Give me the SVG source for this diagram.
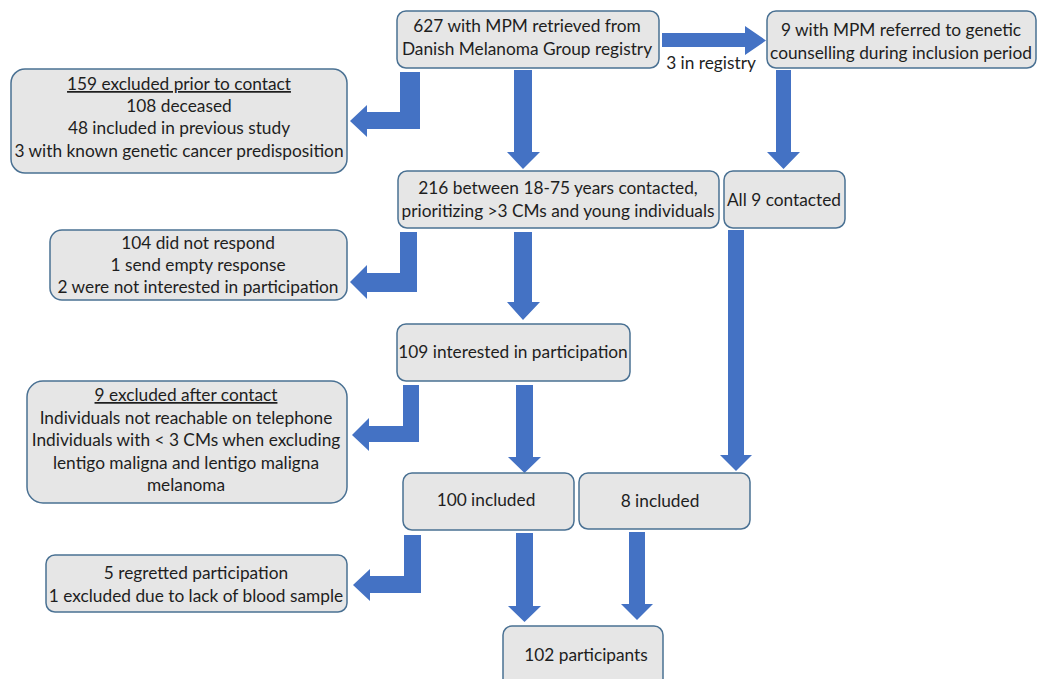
<svg xmlns="http://www.w3.org/2000/svg" width="1038" height="679" viewBox="0 0 1038 679">
<style>
.box{fill:#e6e6e6;stroke:#4a7193;stroke-width:1.5}
.arr{fill:#4472c4}
text{font-family:Lato,"Liberation Sans",sans-serif;font-size:17.3px;fill:#1e1e1e;text-anchor:middle}
.u{text-decoration:underline}
</style>
<rect width="1038" height="679" fill="#ffffff"/>
<g id="connectors">
<polygon class="arr" points="662,33 745,33 745,26 766,40.5 745,55 745,47 662,47"/>
<polygon class="arr" points="514,70 532,70 532,152 540,152 523,169 507,152 514,152"/>
<polygon class="arr" points="776,70 791,70 791,152 800,152 783.5,169 767,152 776,152"/>
<polygon class="arr" points="400,72 420,72 420,129 367,129 367,137 350,121 367,105 367,112 400,112"/>
<polygon class="arr" points="514,232 532,232 532,302 540,302 523,320 507,302 514,302"/>
<polygon class="arr" points="400,232 417,232 417,292 367,292 367,299 350,282 367,265 367,273 400,273"/>
<polygon class="arr" points="728,230 744,230 744,455 752,455 736,471 720,455 728,455"/>
<polygon class="arr" points="516,385 533,385 533,457 541,457 524.5,473 508,457 516,457"/>
<polygon class="arr" points="403,385 419,385 419,442 369,442 369,451 352,435 369,418 369,426 403,426"/>
<polygon class="arr" points="516,533 533,533 533,606 541,606 524.5,622 508,606 516,606"/>
<polygon class="arr" points="629,532 645,532 645,604 653,604 637,620 621,604 629,604"/>
<polygon class="arr" points="404,535 421,535 421,593 370,593 370,601 353,585 370,569 370,576 404,576"/>
<text x="711" y="69">3 in registry</text>
</g>
<g id="n-registry">
<rect class="box" x="397" y="11" width="262" height="57" rx="9"/>
<text x="527" y="32">627 with MPM retrieved from</text>
<text x="527" y="55">Danish Melanoma Group registry</text>
</g>
<g id="n-referred">
<rect class="box" x="767" y="11" width="269" height="57" rx="9"/>
<text x="901" y="36">9 with MPM referred to genetic</text>
<text x="901" y="59">counselling during inclusion period</text>
</g>
<g id="n-excluded-prior">
<rect class="box" x="11" y="69" width="336" height="104" rx="14"/>
<text x="179" y="90" class="u">159 excluded prior to contact</text>
<text x="179" y="112">108 deceased</text>
<text x="179" y="134">48 included in previous study</text>
<text x="179" y="157">3 with known genetic cancer predisposition</text>
</g>
<g id="n-contacted">
<rect class="box" x="398" y="171" width="321" height="57" rx="9"/>
<text x="558" y="194">216 between 18-75 years contacted,</text>
<text x="558" y="217">prioritizing &gt;3 CMs and young individuals</text>
</g>
<g id="n-all9">
<rect class="box" x="724" y="171" width="121" height="57" rx="9"/>
<text x="784" y="206">All 9 contacted</text>
</g>
<g id="n-noresponse">
<rect class="box" x="50" y="230" width="297" height="70" rx="12"/>
<text x="198" y="249">104 did not respond</text>
<text x="198" y="271">1 send empty response</text>
<text x="198" y="293">2 were not interested in participation</text>
</g>
<g id="n-interested">
<rect class="box" x="397" y="324" width="233" height="57" rx="9"/>
<text x="513" y="358">109 interested in participation</text>
</g>
<g id="n-excluded-after">
<rect class="box" x="27" y="381" width="320" height="122" rx="16"/>
<text x="186" y="401" class="u">9 excluded after contact</text>
<text x="186" y="424">Individuals not reachable on telephone</text>
<text x="186" y="446">Individuals with &lt; 3 CMs when excluding</text>
<text x="186" y="469">lentigo maligna and lentigo maligna</text>
<text x="186" y="491">melanoma</text>
</g>
<g id="n-100">
<rect class="box" x="403" y="473" width="171" height="57" rx="9"/>
<text x="486" y="506">100 included</text>
</g>
<g id="n-8">
<rect class="box" x="579" y="473" width="171" height="56" rx="9"/>
<text x="660" y="507">8 included</text>
</g>
<g id="n-regretted">
<rect class="box" x="46" y="555" width="301" height="57" rx="9"/>
<text x="196" y="579">5 regretted participation</text>
<text x="196" y="602">1 excluded due to lack of blood sample</text>
</g>
<g id="n-participants">
<rect class="box" x="503" y="626" width="160" height="70" rx="9"/>
<text x="586" y="661">102 participants</text>
</g>
</svg>
